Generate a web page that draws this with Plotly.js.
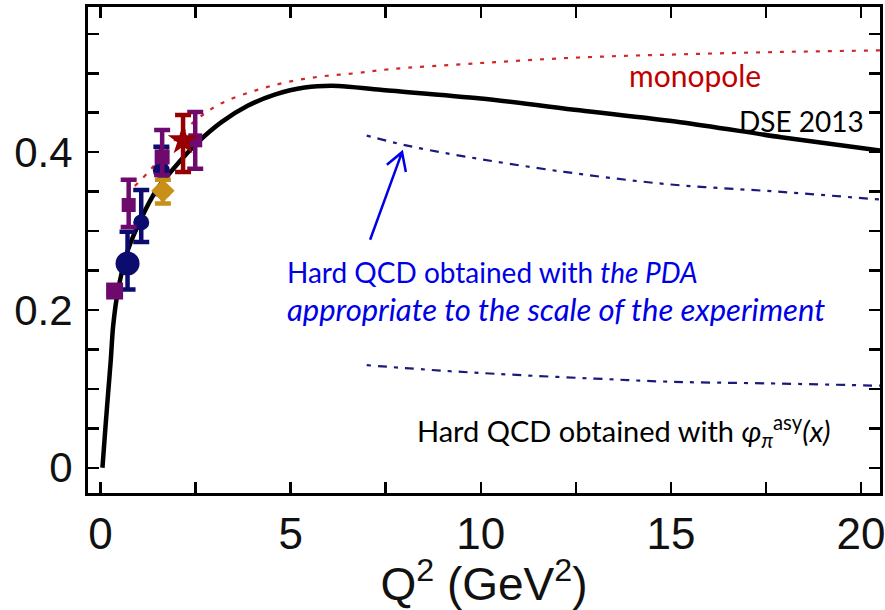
<!DOCTYPE html>
<html>
<head>
<meta charset="utf-8">
<script src="https://cdn.plot.ly/plotly-3.0.1.min.js"></script>
<style>html,body{margin:0;padding:0;background:#fff;}#chart{width:885px;height:610px;}</style>
</head>
<body>
<div id="chart"></div>
<script>
// DSE 2013 curve
const dseQ2  = [0.05, 0.13, 0.2, 0.27, 0.33, 0.46, 0.72, 1.07, 1.47, 1.95, 2.57, 3.18, 3.88, 4.58, 5.37, 6.25, 7.36, 10.0, 12.6, 15.25, 17.9, 20.5];
const dseVal = [0.0, 0.052, 0.095, 0.137, 0.179, 0.225, 0.276, 0.316, 0.352, 0.381, 0.413, 0.438, 0.459, 0.473, 0.482, 0.484, 0.479, 0.468, 0.453, 0.438, 0.419, 0.402];
// monopole curve
const monoQ2  = [0.9, 1.3, 1.6, 1.95, 2.57, 3.18, 4.06, 4.93, 5.8, 6.69, 7.57, 10.0, 12.6, 15.25, 17.9, 20.5];
const monoVal = [0.357, 0.377, 0.395, 0.415, 0.443, 0.462, 0.478, 0.489, 0.496, 0.5, 0.505, 0.513, 0.52, 0.524, 0.527, 0.529];
// Hard QCD with PDA at experimental scale
const pdaQ2  = [7.0, 8.0, 9.4, 12.2, 15.0, 17.8, 20.5];
const pdaVal = [0.421, 0.409, 0.396, 0.375, 0.359, 0.35, 0.340];
// Hard QCD with asymptotic PDA
const asyQ2  = [7.0, 9.0, 10.8, 13.0, 15.0, 17.5, 20.5];
const asyVal = [0.130, 0.123, 0.118, 0.113, 0.109, 0.107, 0.104];
// data sets
const purpleQ2 = [0.37, 0.74, 1.62, 2.49];
const purpleVal = [0.224, 0.333, 0.394, 0.415];
const purpleErrUp = [0.0, 0.032, 0.034, 0.036];
const purpleErrDn = [0.0, 0.028, 0.023, 0.036];
const navyQ2 = [0.71, 1.07, 1.60];
const navyVal = [0.259, 0.311, 0.377];
const navyErrUp = [0.040, 0.041, 0.030];
const navyErrDn = [0.033, 0.025, 0.030];
const orangeQ2 = [1.64];
const orangeVal = [0.351];
const orangeErrUp = [0.014];
const orangeErrDn = [0.016];
const redQ2 = [2.17];
const redVal = [0.415];
const redErrUp = [0.032];
const redErrDn = [0.040];
// tick labels
const xTicks = [0, 5, 10, 15, 20];
const yTicks = [0, 0.2, 0.4];
const yTickText = ['0', '0.2', '0.4'];

const txtFont = 'Lato, "Open Sans", sans-serif';

function pts(q, v, up, dn, color, symbol, size) {
  return {x: q, y: v, mode: 'markers',
    marker: {color: color, symbol: symbol, size: size, opacity: 1, line: {width: 0}},
    error_y: {type: 'data', symmetric: false, array: up, arrayminus: dn, color: color, thickness: 4.5, width: 8}};
}

const traces = [
  {x: monoQ2, y: monoVal, mode: 'lines', line: {color: '#d02828', width: 2.2, dash: '4px,8px', shape: 'spline'}},
  {x: pdaQ2, y: pdaVal, mode: 'lines', line: {color: '#1a1a78', width: 2.2, dash: '4px,7px,9px,7px', shape: 'spline'}},
  {x: asyQ2, y: asyVal, mode: 'lines', line: {color: '#1a1a78', width: 2.2, dash: '4px,7px,9px,7px', shape: 'spline'}},
  {x: dseQ2, y: dseVal, mode: 'lines', line: {color: '#000', width: 4.5, shape: 'spline', smoothing: 0.8}},
  pts(navyQ2, navyVal, navyErrUp, navyErrDn, '#0c0c6e', 'circle', [24, 16, 17]),
  pts(orangeQ2, orangeVal, orangeErrUp, orangeErrDn, '#c89018', 'diamond', 18),
  pts(purpleQ2, purpleVal, purpleErrUp, purpleErrDn, '#6e0a6e', 'square', [17, 14, 15, 14]),
  pts(redQ2, redVal, redErrUp, redErrDn, '#960000', 'star', 23)
];

const axisCommon = {
  showgrid: false, zeroline: false, showline: true, linecolor: '#000', linewidth: 3,
  mirror: 'ticks', ticks: 'inside', ticklen: 11, tickwidth: 2.5, tickcolor: '#000'
};

const layout = {
  width: 885, height: 610,
  margin: {l: 88, r: 5, t: 7, b: 117},
  paper_bgcolor: '#fff', plot_bgcolor: '#fff',
  showlegend: false,
  xaxis: Object.assign({}, axisCommon, {
    range: [-0.33, 20.5], tickmode: 'array', tickvals: xTicks, ticktext: xTicks.map(String),
    tickfont: {family: '"Liberation Sans", Arial, sans-serif', size: 44, color: '#111'},
    ticklabeloverflow: 'allow',
    minor: {tickmode: 'linear', tick0: 0, dtick: 2.5, ticks: 'inside', ticklen: 11, tickwidth: 2.5, tickcolor: '#000'},
    title: {text: 'Q<sup>2</sup> (GeV<sup>2</sup>)', font: {family: '"Liberation Sans", Arial, sans-serif', size: 46, color: '#111'}, standoff: 8}
  }),
  yaxis: Object.assign({}, axisCommon, {
    range: [-0.032, 0.584], tickmode: 'array', tickvals: yTicks, ticktext: yTickText,
    tickfont: {family: '"Liberation Sans", Arial, sans-serif', size: 42, color: '#111'},
    minor: {tickmode: 'linear', tick0: 0, dtick: 0.05, ticks: 'inside', ticklen: 11, tickwidth: 2.5, tickcolor: '#000'},
    ticklabelstandoff: 4
  }),
  annotations: [
    {xref: 'paper', yref: 'paper', x: 0.766, y: 0.860, xanchor: 'center', yanchor: 'middle', showarrow: false,
     text: 'monopole', font: {family: txtFont, size: 30, color: '#c00000'}},
    {xref: 'paper', yref: 'paper', x: 0.9015, y: 0.765, xanchor: 'center', yanchor: 'middle', showarrow: false,
     text: 'DSE 2013', font: {family: txtFont, size: 28, color: '#000'}},
    {xref: 'paper', yref: 'paper', x: 0.2487, y: 0.4547, xanchor: 'left', yanchor: 'middle', showarrow: false,
     text: 'Hard QCD obtained with <i>the PDA</i>', font: {family: txtFont, size: 28, color: '#0000e6'}},
    {xref: 'paper', yref: 'paper', x: 0.2487, y: 0.3786, xanchor: 'left', yanchor: 'middle', showarrow: false,
     text: '<i>appropriate to the scale of the experiment</i>', font: {family: txtFont, size: 31, color: '#0000e6'}},
    {xref: 'paper', yref: 'paper', x: 0.4129, y: 0.1276, xanchor: 'left', yanchor: 'middle', showarrow: false,
     text: 'Hard QCD obtained with <i>φ<sub>π</sub></i><sup>asy</sup><i>(x)</i>', font: {family: txtFont, size: 29, color: '#000'}}
  ],
  shapes: [
    {type: 'path', xref: 'x', yref: 'y', path: 'M 7.09,0.289 L 7.93,0.400 M 7.53,0.384 L 7.93,0.400 L 8.03,0.375',
     line: {color: '#0000e6', width: 2.5}}
  ]
};

Plotly.newPlot('chart', traces, layout, {staticPlot: true, displayModeBar: false});
</script>
</body>
</html>
